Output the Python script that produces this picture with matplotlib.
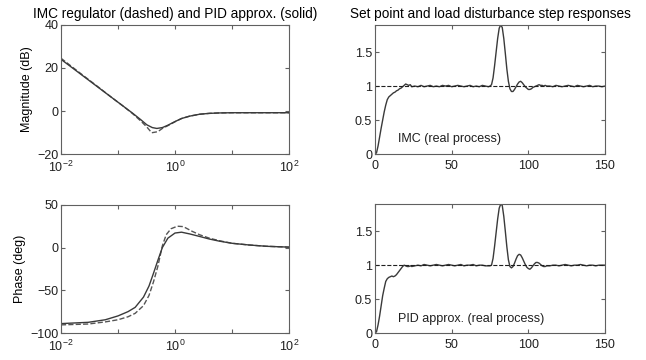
import numpy as np
import matplotlib
matplotlib.use("Agg")
import matplotlib.pyplot as plt

plt.rcParams['font.family'] = ['Liberation Sans', 'DejaVu Sans']
plt.rcParams['font.size'] = 9
plt.rcParams['mathtext.fontset'] = 'custom'
plt.rcParams['mathtext.rm'] = 'Liberation Sans'
plt.rcParams['mathtext.default'] = 'regular'

# --- Bode data ---
w_pid = [0.01, 0.02, 0.04, 0.08, 0.12, 0.18, 0.25, 0.32, 0.4, 0.48, 0.6, 0.75,
         1.0, 1.3, 1.8, 2.7, 4, 6, 10, 100]
mag_pid = [24, 18, 12, 6, 2.5, -1.0, -4.0, -6.4, -7.7, -8.1, -7.7, -6.6,
           -4.9, -3.5, -2.4, -1.5, -1.1, -0.9, -0.8, -0.8]
w_imc = [0.01, 0.02, 0.04, 0.08, 0.12, 0.18, 0.25, 0.32, 0.39, 0.5, 0.6, 0.75,
         1.0, 1.3, 1.8, 2.7, 4, 6, 10, 100]
mag_imc = [24.5, 18.3, 12.2, 6, 2.5, -1.2, -4.6, -7.4, -10.1, -9.6, -8.1, -6.8,
           -5.0, -3.5, -2.4, -1.5, -1.1, -0.9, -0.8, -0.8]

wp_pid = [0.01, 0.03, 0.06, 0.1, 0.15, 0.2, 0.28, 0.35, 0.42, 0.5, 0.6, 0.75,
          1.0, 1.3, 1.8, 2.7, 4, 6, 10, 20, 40, 100]
ph_pid = [-89, -87.5, -84.5, -80, -75, -70, -58, -45, -30, -15, 0, 11,
          17, 18, 16, 13, 10, 7.5, 5, 3, 1.5, 0.5]
wp_imc = [0.01, 0.03, 0.06, 0.1, 0.15, 0.2, 0.28, 0.35, 0.42, 0.5, 0.6, 0.7,
          0.85, 1.1, 1.4, 2, 2.7, 4, 6, 10, 20, 40, 100]
ph_imc = [-90.5, -89.5, -87, -84.5, -81, -77, -68, -56, -40, -22, 2, 15,
          22, 25, 24.5, 19, 15, 11, 8, 5, 3, 1.5, 0.5]

# --- step responses ---
t = (list(range(0, 25)) + list(range(26, 75, 2)) + list(range(75, 113))
     + list(range(114, 151, 2)))
y_imc = ([0, 0.02, 0.12, 0.25, 0.38, 0.5, 0.62, 0.72, 0.8, 0.84, 0.86, 0.88, 0.9,
          0.91, 0.93, 0.94, 0.96, 0.97, 0.99, 1.01, 1.03, 1.02, 1.01, 1.02, 0.99]
         + [1.0, 0.99, 1.01, 0.99, 1.0, 1.01, 0.99, 1.0, 0.99, 1.01, 1.0, 1.01, 0.99,
            1.0, 1.01, 1.0, 0.99, 1.0, 1.01, 0.99, 1.0, 0.99, 1.01, 1.0, 0.99]
         + [1.0, 1.02, 1.12, 1.3, 1.5, 1.7, 1.85, 1.9, 1.86, 1.7, 1.48, 1.25, 1.07,
            0.96, 0.92, 0.92, 0.95, 0.99, 1.03, 1.06, 1.07, 1.05, 1.02, 0.99, 0.97,
            0.95, 0.95, 0.96, 0.98, 0.99, 1.0, 1.01, 1.02, 1.01, 1.01, 1.0, 1.01, 1.0]
         + [1.0, 0.99, 1.01, 1.0, 0.99, 1.0, 1.01, 1.0, 0.99, 1.01, 1.0, 0.99, 1.0,
            1.01, 0.99, 1.0, 1.0, 0.99, 1.0])
y_pid = ([0, 0.02, 0.12, 0.25, 0.4, 0.55, 0.66, 0.76, 0.8, 0.82, 0.83, 0.84, 0.83,
          0.84, 0.86, 0.89, 0.92, 0.95, 0.98, 1.0, 0.99, 0.98, 0.98, 0.99, 0.98]
         + [0.99, 1.0, 0.99, 1.01, 1.0, 0.99, 1.0, 1.01, 1.0, 0.99, 1.0, 1.01, 1.0,
            0.99, 1.0, 1.01, 0.99, 1.0, 1.0, 1.01, 0.99, 1.0, 1.0, 0.99, 0.99]
         + [0.99, 1.0, 1.1, 1.28, 1.48, 1.68, 1.84, 1.9, 1.88, 1.72, 1.5, 1.27, 1.08,
            0.98, 0.96, 0.98, 1.03, 1.09, 1.14, 1.16, 1.15, 1.11, 1.06, 1.01, 0.97,
            0.95, 0.94, 0.96, 0.99, 1.02, 1.04, 1.04, 1.03, 1.01, 0.99, 0.98, 0.98, 0.99]
         + [0.99, 1.0, 1.0, 0.99, 1.0, 1.01, 1.0, 0.99, 1.0, 1.0, 1.01, 1.0, 0.99,
            1.0, 1.0, 0.99, 1.0, 1.0, 1.0])

fig = plt.figure(figsize=(6.46, 3.6), dpi=100)
ax1 = fig.add_axes([0.0944, 0.572, 0.353, 0.359])
ax2 = fig.add_axes([0.0944, 0.075, 0.353, 0.356])
ax3 = fig.add_axes([0.5805, 0.572, 0.356, 0.359])
ax4 = fig.add_axes([0.5805, 0.075, 0.356, 0.358])

line_c = '#3a3a3a'
for ax in (ax1, ax2, ax3, ax4):
    for s in ax.spines.values():
        s.set_color('#606060')
        s.set_linewidth(0.8)
    ax.tick_params(direction='in', top=True, right=True, length=3,
                   color='#606060', labelcolor='#202020', pad=2)
    ax.tick_params(axis='x', pad=4)

ax1.semilogx(w_imc, mag_imc, '--', color='#555555', lw=1.0)
ax1.semilogx(w_pid, mag_pid, '-', color=line_c, lw=1.0)
ax1.set_ylim(-20, 40)
ax1.set_yticks([-20, 0, 20, 40])
ax1.set_ylabel('Magnitude (dB)', labelpad=3)
ax1.set_title('IMC regulator (dashed) and PID approx. (solid)', fontsize=9.8, pad=5)

ax2.semilogx(wp_imc, ph_imc, '--', color='#555555', lw=1.0)
ax2.semilogx(wp_pid, ph_pid, '-', color=line_c, lw=1.0)
ax2.set_ylim(-100, 50)
ax2.set_yticks([-100, -50, 0, 50])
ax2.set_ylabel('Phase (deg)', labelpad=3)

for ax in (ax1, ax2):
    ax.set_xlim(1e-2, 1e2)
    ax.set_xticks([1e-2, 1e-1, 1, 1e1, 1e2])
    ax.set_xticklabels(['$10^{-2}$', '', '$10^{0}$', '', '$10^{2}$'])
    ax.minorticks_off()

ax3.plot(t, y_imc, '-', color=line_c, lw=1.0)
ax3.set_title('Set point and load disturbance step responses', fontsize=9.8, pad=5)
ax3.text(15, 0.22, 'IMC (real process)', va='center', ha='left', color='#202020')
ax4.plot(t, y_pid, '-', color=line_c, lw=1.0)
ax4.text(15, 0.2, 'PID approx. (real process)', va='center', ha='left', color='#202020')

for ax in (ax3, ax4):
    ax.plot([0, 150], [1, 1], '--', color='#202020', lw=0.8)
    ax.set_xlim(0, 150)
    ax.set_ylim(0, 1.9)
    ax.set_xticks([0, 50, 100, 150])
    ax.set_yticks([0, 0.5, 1, 1.5])
    ax.set_yticklabels(['0', '0.5', '1', '1.5'])

fig.savefig('out.png', dpi=100)
